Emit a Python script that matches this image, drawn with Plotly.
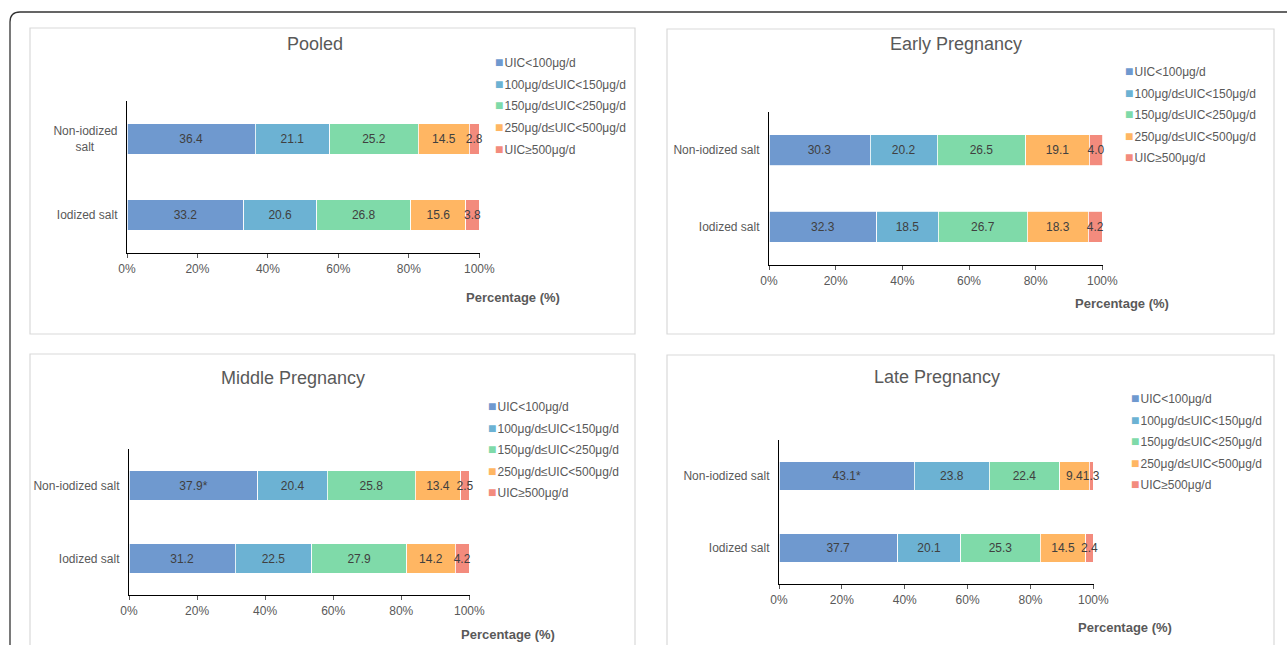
import plotly.graph_objects as go

# Urinary iodine concentration (UIC) groups
uic_groups = [
    "UIC<100μg/d",
    "100μg/d≤UIC<150μg/d",
    "150μg/d≤UIC<250μg/d",
    "250μg/d≤UIC<500μg/d",
    "UIC≥500μg/d",
]
salt_types = ["Iodized salt", "Non-iodized salt"]

# Percentage of women in each UIC group, by salt type
pooled_noniodized = [36.4, 21.1, 25.2, 14.5, 2.8]
pooled_iodized = [33.2, 20.6, 26.8, 15.6, 3.8]
early_noniodized = [30.3, 20.2, 26.5, 19.1, 4.0]
early_iodized = [32.3, 18.5, 26.7, 18.3, 4.2]
middle_noniodized = [37.9, 20.4, 25.8, 13.4, 2.5]
middle_iodized = [31.2, 22.5, 27.9, 14.2, 4.2]
late_noniodized = [43.1, 23.8, 22.4, 9.4, 1.3]
late_iodized = [37.7, 20.1, 25.3, 14.5, 2.4]

# Significance markers (P<0.05 vs iodized salt)
middle_noniodized_marks = ["*", "", "", "", ""]
late_noniodized_marks = ["*", "", "", "", ""]
no_marks = ["", "", "", "", ""]

x_ticks = [0, 20, 40, 60, 80, 100]
x_ticktext = ["0%", "20%", "40%", "60%", "80%", "100%"]

colors = ["#6f99cf", "#6cb2d3", "#7fdaa9", "#ffb663", "#f38b7d"]

W, H = 1287, 645
FONT = "Liberation Sans, Arial, sans-serif"
GRAY = "#595959"
LEGEND_STEP = 21.5


def px(x):
    return x / W


def py(y):
    return 1 - y / H


def html_escape(s):
    return s.replace("&", "&amp;").replace("<", "&lt;").replace(">", "&gt;")


panels = [
    dict(title="Pooled", non=pooled_noniodized, iod=pooled_iodized,
         non_marks=no_marks, iod_marks=no_marks,
         box=(30, 28, 635, 334), xd=(127, 480), yd=(101, 253),
         tpos=(315, 44), leg=(493, 62.5), xt=(513, 297),
         non_label="Non-iodized<br>salt" + "\u00a0" * 7),
    dict(title="Early Pregnancy", non=early_noniodized, iod=early_iodized,
         non_marks=no_marks, iod_marks=no_marks,
         box=(667, 29, 1274, 334), xd=(769, 1103), yd=(112, 265),
         tpos=(956, 44), leg=(1123, 71), xt=(1122, 303),
         non_label="Non-iodized salt"),
    dict(title="Middle Pregnancy", non=middle_noniodized, iod=middle_iodized,
         non_marks=middle_noniodized_marks, iod_marks=no_marks,
         box=(30, 354, 635, 660), xd=(129, 470), yd=(449, 595),
         tpos=(293, 378), leg=(486, 406), xt=(508, 634),
         non_label="Non-iodized salt"),
    dict(title="Late Pregnancy", non=late_noniodized, iod=late_iodized,
         non_marks=late_noniodized_marks, iod_marks=no_marks,
         box=(667, 355, 1274, 660), xd=(779, 1094), yd=(440, 584),
         tpos=(937, 377), leg=(1129, 398), xt=(1125, 627),
         non_label="Non-iodized salt"),
]

fig = go.Figure()
shapes = []
annotations = []
layout_axes = {}

# Outer figure frame with a rounded top-left corner
shapes.append(dict(
    type="path", xref="paper", yref="paper",
    path=f"M {px(10)},{py(700)} L {px(10)},{py(22)} Q {px(10)},{py(12)} {px(20)},{py(12)} L {px(1300)},{py(12)}",
    line=dict(color="#333333", width=1.3),
))

for i, p in enumerate(panels):
    n = "" if i == 0 else str(i + 1)
    xa, ya = "x" + n, "y" + n
    for k, grp in enumerate(uic_groups):
        vals = [p["iod"][k], p["non"][k]]
        texts = [f"{p['iod'][k]:.1f}{p['iod_marks'][k]}",
                 f"{p['non'][k]:.1f}{p['non_marks'][k]}"]
        fig.add_trace(go.Bar(
            x=vals, y=salt_types, orientation="h", name=grp,
            xaxis=xa, yaxis=ya, showlegend=False,
            marker=dict(color=colors[k], line=dict(color="white", width=0.8)),
            text=texts, texttemplate="%{text}", textposition="inside",
            insidetextanchor="middle", textangle=0, cliponaxis=False,
            textfont=dict(family=FONT, size=12, color="#404040"),
            hovertemplate="%{y}<br>" + grp + ": %{x:.1f}%<extra></extra>",
        ))
        # legend entry for this UIC group
        annotations.append(dict(
            text=(f'<span style="color:{colors[k]};font-size:14px">■</span>'
                  f'\u200a{html_escape(grp)}'),
            xref="paper", yref="paper",
            x=px(p["leg"][0]), y=py(p["leg"][1] + k * LEGEND_STEP),
            xanchor="left", yanchor="middle", showarrow=False,
            font=dict(family=FONT, size=12, color=GRAY),
        ))

    x0, x1 = p["xd"]
    y0, y1 = p["yd"]
    layout_axes["xaxis" + n] = dict(
        domain=[px(x0), px(x1)], anchor=ya, range=[0, 100.2],
        tickvals=x_ticks, ticktext=x_ticktext, automargin=False,
        showgrid=False, zeroline=False, showline=True,
        linecolor="#000000", linewidth=1.2,
        ticks="outside", ticklen=4, tickcolor="#595959",
        tickfont=dict(family=FONT, size=12, color=GRAY), fixedrange=True,
    )
    layout_axes["yaxis" + n] = dict(
        domain=[py(y1), py(y0)], anchor=xa, type="category",
        categoryorder="array", categoryarray=salt_types,
        tickvals=salt_types, ticktext=["Iodized salt", p["non_label"]],
        automargin=False,
        showgrid=False, zeroline=False, showline=True,
        linecolor="#000000", linewidth=1.2, ticks="",
        ticklabelstandoff=6,
        tickfont=dict(family=FONT, size=12, color=GRAY), fixedrange=True,
    )

    bx0, by0, bx1, by1 = p["box"]
    shapes.append(dict(
        type="rect", xref="paper", yref="paper",
        x0=px(bx0), x1=px(bx1), y0=py(by1), y1=py(by0),
        line=dict(color="#d9d9d9", width=1.2), fillcolor="rgba(0,0,0,0)",
        layer="below",
    ))
    annotations.append(dict(
        text=p["title"], xref="paper", yref="paper",
        x=px(p["tpos"][0]), y=py(p["tpos"][1]),
        xanchor="center", yanchor="middle", showarrow=False,
        font=dict(family=FONT, size=18, color=GRAY),
    ))
    annotations.append(dict(
        text="<b>Percentage (%)</b>", xref="paper", yref="paper",
        x=px(p["xt"][0]), y=py(p["xt"][1]),
        xanchor="center", yanchor="middle", showarrow=False,
        font=dict(family=FONT, size=13, color=GRAY),
    ))

fig.update_layout(
    width=W, height=H, autosize=False,
    margin=dict(l=0, r=0, t=0, b=0, pad=0),
    paper_bgcolor="white", plot_bgcolor="white",
    barmode="stack", bargap=0.6,
    uniformtext=dict(minsize=12, mode="show"),
    font=dict(family=FONT, size=12, color=GRAY),
    shapes=shapes, annotations=annotations,
    showlegend=False,
    **layout_axes,
)

fig.write_html("out.html", config=dict(displayModeBar=False))
